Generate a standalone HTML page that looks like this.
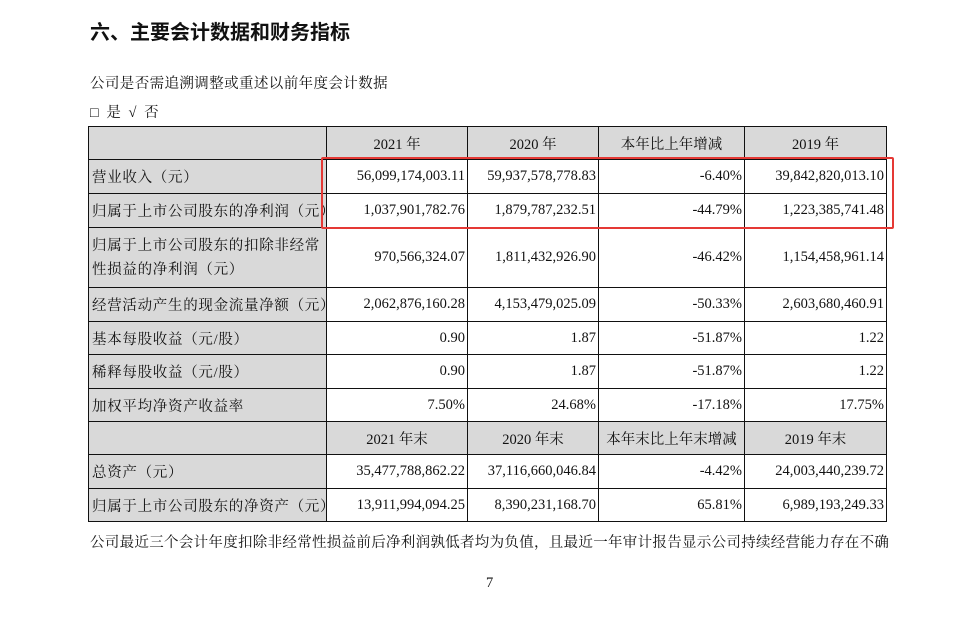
<!DOCTYPE html>
<html><head><meta charset="utf-8"><style>
body{margin:0;width:979px;height:628px;background:#fff;position:relative;overflow:hidden;font-family:"Liberation Serif","Noto Serif CJK SC",serif;color:#111}
.t{position:absolute;white-space:nowrap}
table{position:absolute;left:88px;top:126px;width:798px;border-collapse:collapse;table-layout:fixed;font-size:14.5px}
td{border:1px solid #111;padding:0 4px;white-space:nowrap;overflow:hidden}
td.l{background:#d9d9d9;text-align:left;padding-left:3px;letter-spacing:0.7px}
td.h{background:#d9d9d9;text-align:center}
td.v{text-align:right;padding-right:2px}
#box{position:absolute;left:321px;top:157px;width:569px;height:68px;border:2px solid #e53935;border-radius:2px}
</style></head><body>
<div class="t" style="left:90px;top:16px;font-size:20px;font-weight:bold;font-family:'Noto Sans CJK SC',sans-serif">六、主要会计数据和财务指标</div>
<div class="t" style="left:90px;top:72px;font-size:14.5px;letter-spacing:0.4px">公司是否需追溯调整或重述以前年度会计数据</div>
<div class="t" style="left:90px;top:101px;font-size:14.5px;letter-spacing:2px">□ 是 √ 否</div>
<table>
<colgroup><col style="width:238px"><col style="width:141px"><col style="width:131px"><col style="width:146px"><col style="width:142px"></colgroup>
<tr style="height:33px"><td class="l"></td><td class="h">2021 年</td><td class="h">2020 年</td><td class="h">本年比上年增减</td><td class="h">2019 年</td></tr>
<tr style="height:34px"><td class="l">营业收入（元）</td><td class="v">56,099,174,003.11</td><td class="v">59,937,578,778.83</td><td class="v">-6.40%</td><td class="v">39,842,820,013.10</td></tr>
<tr style="height:34px"><td class="l">归属于上市公司股东的净利润（元）</td><td class="v">1,037,901,782.76</td><td class="v">1,879,787,232.51</td><td class="v">-44.79%</td><td class="v">1,223,385,741.48</td></tr>
<tr style="height:60px"><td class="l" style="line-height:24px">归属于上市公司股东的扣除非经常<br>性损益的净利润（元）</td><td class="v">970,566,324.07</td><td class="v">1,811,432,926.90</td><td class="v">-46.42%</td><td class="v">1,154,458,961.14</td></tr>
<tr style="height:34px"><td class="l">经营活动产生的现金流量净额（元）</td><td class="v">2,062,876,160.28</td><td class="v">4,153,479,025.09</td><td class="v">-50.33%</td><td class="v">2,603,680,460.91</td></tr>
<tr style="height:33px"><td class="l">基本每股收益（元/股）</td><td class="v">0.90</td><td class="v">1.87</td><td class="v">-51.87%</td><td class="v">1.22</td></tr>
<tr style="height:34px"><td class="l">稀释每股收益（元/股）</td><td class="v">0.90</td><td class="v">1.87</td><td class="v">-51.87%</td><td class="v">1.22</td></tr>
<tr style="height:33px"><td class="l">加权平均净资产收益率</td><td class="v">7.50%</td><td class="v">24.68%</td><td class="v">-17.18%</td><td class="v">17.75%</td></tr>
<tr style="height:33px"><td class="l"></td><td class="h">2021 年末</td><td class="h">2020 年末</td><td class="h">本年末比上年末增减</td><td class="h">2019 年末</td></tr>
<tr style="height:34px"><td class="l">总资产（元）</td><td class="v">35,477,788,862.22</td><td class="v">37,116,660,046.84</td><td class="v">-4.42%</td><td class="v">24,003,440,239.72</td></tr>
<tr style="height:33px"><td class="l">归属于上市公司股东的净资产（元）</td><td class="v">13,911,994,094.25</td><td class="v">8,390,231,168.70</td><td class="v">65.81%</td><td class="v">6,989,193,249.33</td></tr>
</table>
<div id="box"></div>
<div class="t" style="left:90px;top:531px;font-size:14.5px;letter-spacing:0.3px">公司最近三个会计年度扣除非经常性损益前后净利润孰低者均为负值，且最近一年审计报告显示公司持续经营能力存在不确</div>
<div class="t" style="left:486px;top:575px;font-size:14.5px">7</div>
</body></html>
